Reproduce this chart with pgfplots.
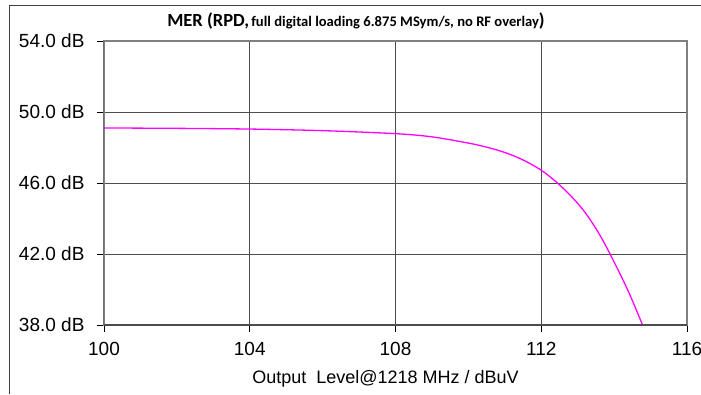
\documentclass[border=0pt]{standalone}
\usepackage{pgfplots}
\pgfplotsset{compat=1.18}
\usepackage{fontspec}
\setmainfont{Liberation Sans}
\newfontfamily\titlefont{Carlito}
\definecolor{curve}{RGB}{255,0,255}
\begin{document}
\begin{tikzpicture}[x=1pt,y=1pt]
\path[use as bounding box] (0,0) rectangle (701,-394);
\draw[black!75, line width=1pt] (9,-394) -- (9,-5) -- (701,-5);
\node[anchor=base, inner sep=0pt] at (356,-26.7) {\titlefont\bfseries{\fontsize{18.5}{19}\selectfont MER (RPD,} {\fontsize{14.6}{15}\selectfont full digital loading 6.875 MSym/s, no RF overlay}{\fontsize{18.5}{19}\selectfont)}};
\begin{axis}[
  at={(104pt,-325pt)}, anchor=south west,
  width=583pt, height=284pt, scale only axis,
  xmin=100, xmax=116, ymin=38, ymax=54,
  xtick={100,104,108,112,116}, ytick={38,42,46,50,54},
  xtick pos=bottom, ytick pos=left,
  yticklabel={\pgfmathprintnumber[fixed,fixed zerofill,precision=1]{\tick}~dB},
  /pgf/number format/assume math mode=true,
  tick label style={font=\fontsize{19}{19}\selectfont},
  xticklabel style={yshift=-7pt},
  yticklabel style={xshift=-9pt},
  grid=major, major grid style={black!70, line width=0.9pt},
  tick align=outside, major tick length=7pt,
  tick style={black, line width=0.8pt},
  axis line style={black!50, line width=1.1pt},
  xlabel={Output\ \ Level@1218 MHz / dBuV},
  xlabel style={font=\fontsize{18}{18}\selectfont, at={(axis description cs:0.5,0)}, anchor=base, yshift=-58pt, xshift=-10pt},
  clip=true,
]
\addplot[curve, line width=1.3pt, smooth, tension=0.5] coordinates {
(100,49.10) (102,49.08) (104,49.04) (106,48.95) (108,48.78) (109,48.60)
(110,48.25) (110.5,48.02) (111,47.72) (111.5,47.30) (112,46.72) (112.4,46.08)
(112.8,45.30) (113.2,44.35) (113.6,43.10) (114.0,41.55) (114.4,39.85) (114.78,38.00)
};
\draw[black, line width=1pt] (axis cs:100,38) -- (axis cs:100,54);
\draw[black!70, line width=1.2pt] (axis cs:100,38) -- (axis cs:116,38);
\end{axis}
\end{tikzpicture}
\end{document}
